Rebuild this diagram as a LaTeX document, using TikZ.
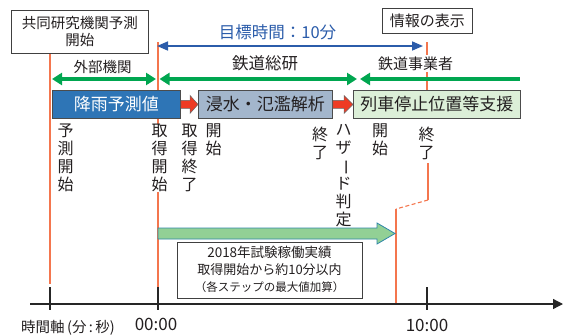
\documentclass[tikz,border=0pt]{standalone}
\usepackage{fontspec}
\usepackage{graphicx}
\setmainfont{Noto Sans CJK JP}
\usetikzlibrary{arrows.meta,calc}
\definecolor{orng}{HTML}{F4764E}
\definecolor{grn}{HTML}{00A650}
\definecolor{blu}{HTML}{2B5CAA}
\definecolor{bboxc}{HTML}{2E75B6}
\definecolor{gboxc}{HTML}{A3B6CC}
\definecolor{lgboxc}{HTML}{DCEFD8}
\definecolor{redarr}{HTML}{EE3B24}
\definecolor{bigarr}{HTML}{92D095}
\definecolor{bigarrb}{HTML}{2F87A8}
\definecolor{txt}{HTML}{231F20}
\begin{document}
\begin{tikzpicture}[x=1pt,y=-1pt,
  every node/.style={inner sep=0pt,text=txt},
  framebox/.style={draw=black!75,line width=0.8pt,fill=white,align=center},
  procbox/.style={draw=black!70,line width=0.8pt,minimum height=28pt,anchor=north west,font=\fontsize{17}{20}\selectfont},
  vtext/.style={align=center,anchor=north,fill=white,font=\fontsize{16}{18}\selectfont},
  orline/.style={draw=orng,line width=1.1pt},
  grnline/.style={draw=grn,line width=4.5pt},
  redarrow/.style={fill=redarr,draw=black!60,line width=0.5pt},
  tick/.style={draw=black!85,line width=1.3pt}]
\useasboundingbox (0,0) rectangle (570,335);

% time coordinates
\coordinate (t0top) at (50,53);
\coordinate (t0bot) at (50,284);
\coordinate (t1top) at (158,42);
\coordinate (t1bot) at (158,304);
\coordinate (t2top) at (427,42);

% orange marker lines
\draw[orline] (t0top) -- (t0bot);
\draw[orline] (t1top) -- (t1bot);
\draw[orline] (t2top) -- (427,90);
\draw[orline] (428,163) -- (428,200);
\draw[orline,dashed,dash pattern=on 4pt off 2.5pt] (428,200) -- (396,209);
\draw[orline] (396,209) -- (396,304);

% top boxes
\node[framebox,anchor=north west,minimum width=137pt,minimum height=43pt,
  font=\fontsize{14.5}{17}\selectfont] (kyodo) at (11,10) {共同研究機関予測\\開始};
\node[framebox,anchor=north west,minimum width=90pt,minimum height=25pt,
  font=\fontsize{15}{18}\selectfont] (joho) at (382,8) {情報の表示};

% target time arrow
\node[text=blu,font=\fontsize{16.5}{19}\selectfont] (mokuhyo) at (277.5,32) {目標時間：10分};
\coordinate (ba) at (157,46);
\coordinate (bb) at (423,46);
\draw[draw=blu,line width=1.6pt,{Triangle[length=11pt,width=9pt]}-{Triangle[length=11pt,width=9pt]}] (ba) -- (bb);

% organisation labels
\node[fill=white,inner sep=1pt,font=\fontsize{14.5}{16}\selectfont] (gaibu) at (102.5,67) {外部機関};
\node[fill=white,inner sep=1pt,font=\fontsize{16.5}{18}\selectfont] (soken) at (265,63.5) {鉄道総研};
\node[fill=white,inner sep=2pt,font=\fontsize{15}{17}\selectfont] (jigyo) at (415.5,63.5) {鉄道事業者};

% green span arrows
\coordinate (g1a) at (52,79);
\coordinate (g1b) at (156,79);
\coordinate (g2a) at (159.5,79);
\coordinate (g2b) at (357,79);
\coordinate (g3a) at (360,79);
\coordinate (g3b) at (520,79);
\draw[grnline,{Triangle[length=10pt,width=12pt]}-{Triangle[length=10pt,width=12pt]}] (g1a) -- (g1b);
\draw[grnline,{Triangle[length=10pt,width=12pt]}-{Triangle[length=10pt,width=12pt]}] (g2a) -- (g2b);
\draw[grnline,{Triangle[length=10pt,width=12pt]}-] (g3a) -- (g3b);

% process boxes
\node[procbox,fill=bboxc,text=white,minimum width=128pt] (b1) at (52,90) {降雨予測値};
\node[procbox,fill=gboxc,minimum width=134pt] (b2) at (198,90) {浸水・氾濫解析};
\node[procbox,fill=lgboxc,minimum width=167pt] (b3) at (353,90) {列車停止位置等支援};

% red block arrows
\filldraw[redarrow] let \p1=(b1.east), \p2=(b2.west) in
  (\x1,\y1+4pt) -- (\x2-8pt,\y1+4pt) -- (\x2-8pt,\y1+9pt) -- (\x2,\y1) --
  (\x2-8pt,\y1-9pt) -- (\x2-8pt,\y1-4pt) -- (\x1,\y1-4pt) -- cycle;
\filldraw[redarrow] let \p1=(b2.east), \p2=(b3.west) in
  (\x1,\y1+4pt) -- (\x2-9pt,\y1+4pt) -- (\x2-9pt,\y1+9pt) -- (\x2,\y1) --
  (\x2-9pt,\y1-9pt) -- (\x2-9pt,\y1-4pt) -- (\x1,\y1-4pt) -- cycle;

% vertical labels
\node[vtext] (v1) at (65.5,124) {予\\測\\開\\始};
\node[vtext] (v2) at (159.5,124) {取\\得\\開\\始};
\node[vtext] (v3) at (189.5,124) {取\\得\\終\\了};
\node[vtext] (v4) at (213.5,124) {開\\始};
\node[vtext] (v5) at (320,127) {終\\了};
\node[vtext] (v6) at (343.5,124) {ハ\\ザ\\\rotatebox[origin=c]{-90}{ー}\\ド\\判\\定};
\node[vtext] (v7) at (380,124) {開\\始};
\node[vtext] (v8) at (426.5,127) {終\\了};

% big green arrow
\coordinate (ga) at (158,233.5);
\filldraw[fill=bigarr,draw=bigarrb,line width=0.8pt] let \p1=(ga) in
  (\x1,\y1+5.5pt) -- (\x1+219pt,\y1+5.5pt) -- (\x1+219pt,\y1+10.5pt) -- (\x1+237pt,\y1) --
  (\x1+219pt,\y1-10.5pt) -- (\x1+219pt,\y1-5.5pt) -- (\x1,\y1-5.5pt) -- cycle;

% result box
\node[framebox,anchor=north west,minimum width=185pt,minimum height=56pt] (res) at (177,242) {};
\node[font=\fontsize{13.5}{15}\selectfont] (r1) at (269.5,252) {2018年試験稼働実績};
\node[font=\fontsize{13}{15}\selectfont] (r2) at (269.5,270) {取得開始から約10分以内};
\node[font=\fontsize{11.5}{14}\selectfont] (r3) at (269.5,287.5) {（各ステップの最大値加算）};

% time axis
\coordinate (ax0) at (30,304);
\coordinate (ax1) at (563,304);
\draw[draw=black!85,line width=1.3pt,-{Triangle[length=10pt,width=10pt]}] (ax0) -- (ax1);
\draw[tick] (50,287) -- (50,310);
\draw[tick] (158,287) -- (158,310);
\draw[tick] (427,287) -- (427,310);
\node[font=\fontsize{14.5}{16}\selectfont] (axl) at (68,328) {時間軸\,(分\,:\,秒)};
\node[font=\fontsize{17}{20}\selectfont] (z0) at (156,324) {00:00};
\node[font=\fontsize{17}{20}\selectfont] (z1) at (427,325) {10:00};
\end{tikzpicture}
\end{document}
